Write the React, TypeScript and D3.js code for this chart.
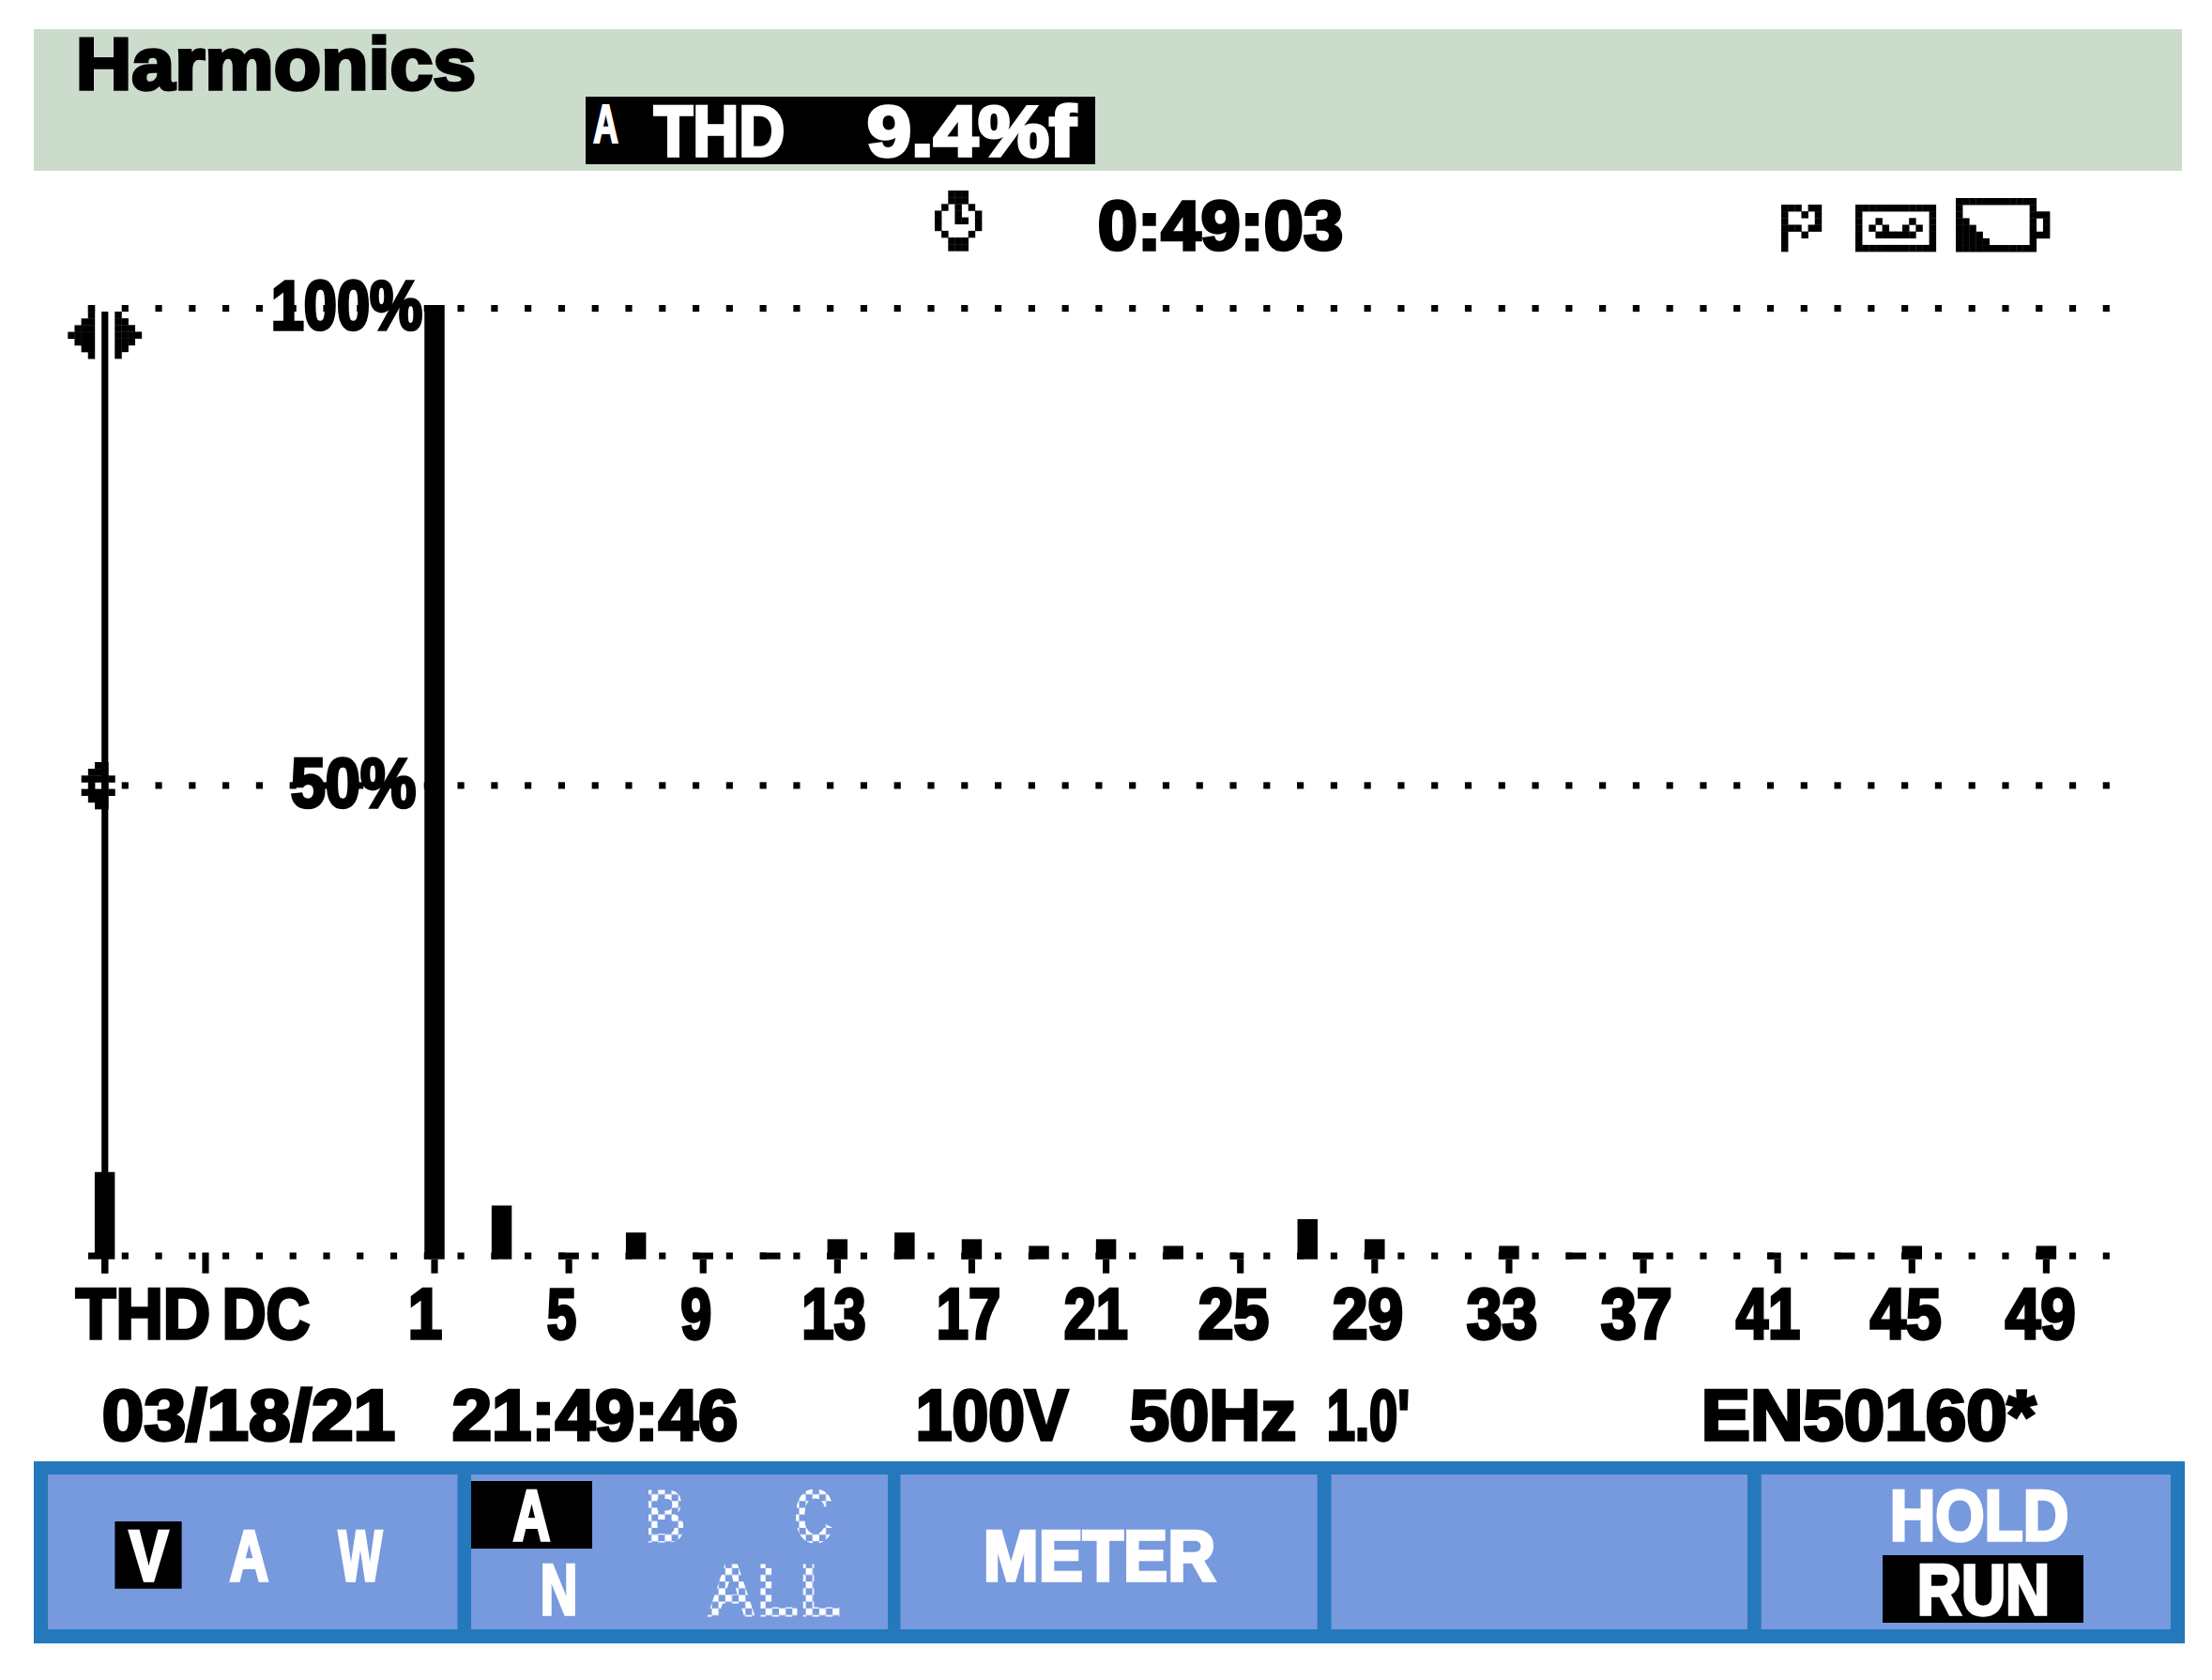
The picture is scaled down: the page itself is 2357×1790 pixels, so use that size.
import React from 'react';
import * as d3 from 'd3';

const harmonicOrders = [1, 3, 5, 7, 9, 11, 13, 15, 17, 19, 21, 23, 25, 27, 29, 31, 33, 35, 37, 39, 41, 43, 45, 47, 49];
const harmonicValues = [100, 5.63, 0.7, 2.8, 0.7, 0.7, 2.1, 2.8, 2.1, 1.4, 2.1, 1.4, 0.7, 4.2, 2.1, 0, 1.4, 0.7, 0.7, 0, 0.7, 0.7, 1.4, 0, 1.4];
const narrowBarOrders = [25, 41];
const thdValue = 9.14;
const tickOrders = [1, 5, 9, 13, 17, 21, 25, 29, 33, 37, 41, 45, 49];
const tickLabels = ['1', '5', '9', '13', '17', '21', '25', '29', '33', '37', '41', '45', '49'];
const gridLevels = [0, 50, 100];

const W = 2357, H = 1790, U = 7.15;
const x = d3.scaleLinear().domain([1, 49]).range([463, 2180.4]);
const y = d3.scaleLinear().domain([0, 100]).range([1341.7, 325]);
const THD_POS = -8.82, DC_POS = -5.82;
const BAR_W = 3 * U;
const dotIndexes = d3.range(-1, 60);
const dotX = (k: number) => 133.3 + 35.78 * k;

// left/right extent of each tick label
const tickLabelBoxes = [[433, 473], [581, 616], [723.5, 760], [852.5, 924.5], [996, 1068], [1132, 1203.6], [1275, 1354], [1418, 1497], [1561, 1640], [1704, 1783.6], [1848, 1920], [1991, 2070.5], [2135, 2213.5]];

type TP = { s: string; l: number; r: number; t: number; b: number; fill?: string; sw?: number };
function T({ s, l, r, t, b, fill = '#000', sw = 3.5 }: TP) {
  const size = (b - t - sw) / 0.716;
  return (
    <text x={l + sw / 2} y={b - sw / 2} fontFamily="'Liberation Sans', Arial, sans-serif" fontWeight={700}
      fontSize={size} fill={fill} stroke={fill} strokeWidth={sw} strokeLinejoin="miter"
      textLength={r - l - sw} lengthAdjust="spacingAndGlyphs">{s}</text>
  );
}

function Bitmap({ x0, y0, rows, fill = '#000' }: { x0: number; y0: number; rows: string[]; fill?: string }) {
  const cells: React.ReactNode[] = [];
  rows.forEach((row, j) => row.split('').forEach((c, i) => {
    if (c === '#') cells.push(<rect key={`${i}-${j}`} x={x0 + i * U} y={y0 + j * U} width={U + 0.3} height={U + 0.3} fill={fill} />);
  }));
  return <g>{cells}</g>;
}

const flagIcon = ['###.##', '#..#.#', '#....#', '###.##', '#..#..', '#.....', '#.....'];
const tapeIcon = ['############', '#..........#', '#..#....#..#', '#.#.#..#.#.#', '#..######..#', '#..........#', '############'];
const batteryIcon = ['############..', '#..........#..', '#..........###', '##.........#.#', '###........#.#', '####.......###', '#####......#..', '############..'];
const clockIcon = ['..###..', '..###..', '.#.#.#.', '#..#..#', '#..##.#', '#.....#', '.#...#.', '..###..', '..###..'];
const cursorDiamond = ['..##.', '.###.', '#####', '.#.#.', '#####', '.###.', '..##.'];
const leftArrow = ['...#', '...#', '..##', '.###', '####', '.###', '..##', '...#'];
const rightArrow = ['#...', '##..', '###.', '####', '###.', '##..', '#...'];

const softKeys = [[51, 487.5], [502, 946], [959.5, 1403.7], [1418.5, 1862], [1876.7, 2313]];

export default function App() {
  const narrow = (h: number) => narrowBarOrders.includes(h);
  return (
    <svg width={W} height={H} viewBox={`0 0 ${W} ${H}`} style={{ position: 'absolute', left: 0, top: 0, display: 'block' }}>
      <defs>
        <pattern id="dither" patternUnits="userSpaceOnUse" width={2 * U} height={2 * U} x={687} y={1585}>
          <rect x={0} y={0} width={U} height={U} fill="#fff" />
          <rect x={U} y={U} width={U} height={U} fill="#fff" />
        </pattern>
      </defs>
      <rect width={W} height={H} fill="#fff" />

      {/* header */}
      <rect x={36} y={31} width={2289} height={151} fill="#ccdccc" />
      <T s="Harmonics" l={79} r={509} t={38} b={97} />
      <rect x={624} y={103} width={543} height={72} fill="#000" />
      <T s="A" l={631} r={660} t={110} b={153} fill="#fff" sw={2} />
      <T s="THD" l={695} r={838} t={110} b={168} fill="#fff" />
      <T s="9.4%f" l={922} r={1148} t={110} b={168} fill="#fff" />

      {/* status row */}
      <Bitmap x0={996} y0={203} rows={clockIcon} />
      <T s="0:49:03" l={1168} r={1433} t={211} b={268} />
      <Bitmap x0={1898} y0={218} rows={flagIcon} />
      <Bitmap x0={1977} y0={218} rows={tapeIcon} />
      <Bitmap x0={2084} y0={211} rows={batteryIcon} />

      {/* dotted grid */}
      {gridLevels.map(v => dotIndexes.map(k => (
        <rect key={`${v}-${k}`} x={dotX(k) - U / 2} y={v === 0 ? y(0) - U : y(v)} width={U} height={U} fill="#000" />
      )))}

      {/* cursor */}
      <rect x={108.2} y={332} width={U} height={1356.7 - 332} fill="#000" />
      <Bitmap x0={72.3} y0={325} rows={leftArrow} />
      <Bitmap x0={122.3} y0={332} rows={rightArrow} />
      <Bitmap x0={86.7} y0={812} rows={cursorDiamond} />

      {/* bars */}
      <rect x={x(THD_POS) - BAR_W / 2} y={y(thdValue)} width={BAR_W} height={y(0) - y(thdValue)} fill="#000" />
      {harmonicOrders.map((h, i) => harmonicValues[i] > 0 && (
        <rect key={h} x={x(h) - BAR_W / 2} y={y(harmonicValues[i])}
          width={narrow(h) ? 2 * U : BAR_W} height={y(0) - y(harmonicValues[i])} fill="#000" />
      ))}

      {/* ticks */}
      <rect x={x(THD_POS) - U / 2} y={y(0)} width={U} height={15} fill="#000" />
      <rect x={x(DC_POS) - U / 2} y={y(0) - U} width={U} height={15 + U} fill="#000" />
      {tickOrders.map(h => <rect key={h} x={x(h) - U / 2} y={y(0)} width={U} height={15} fill="#000" />)}

      {/* axis labels */}
      <T s="100%" l={287} r={452} t={297} b={353} />
      <T s="50%" l={308} r={445} t={805} b={862} />
      <T s="THD" l={79} r={226} t={1370} b={1428} />
      <T s="DC" l={235} r={332} t={1370} b={1428} />
      {tickLabels.map((s, i) => (
        <T key={s} s={s} l={tickLabelBoxes[i][0]} r={tickLabelBoxes[i][1]} t={1370} b={1428} />
      ))}

      {/* info row */}
      <T s="03/18/21" l={107} r={423} t={1478} b={1536} />
      <T s="21:49:46" l={480} r={788} t={1478} b={1536} />
      <T s="100V" l={974} r={1140} t={1478} b={1536} />
      <T s="50Hz" l={1202} r={1383} t={1478} b={1536} />
      <T s="1.0'" l={1412} r={1504} t={1478} b={1536} />
      <T s="EN50160*" l={1811} r={2171} t={1478} b={1536} />

      {/* soft keys */}
      <rect x={36} y={1557} width={2292} height={194} fill="#2478bb" />
      {softKeys.map(([a, b]) => <rect key={a} x={a} y={1571} width={b - a} height={165} fill="#7799dd" />)}

      <rect x={122.4} y={1621} width={71.2} height={71.7} fill="#000" />
      <T s="V" l={136} r={181} t={1628} b={1686} fill="#fff" />
      <T s="A" l={243} r={288} t={1628} b={1686} fill="#fff" />
      <T s="W" l={359} r={409} t={1628} b={1686} fill="#fff" />

      <rect x={502} y={1578} width={129} height={72} fill="#000" />
      <T s="A" l={545} r={588} t={1585} b={1643} fill="#fff" />
      <T s="B" l={687} r={731} t={1585} b={1643} fill="url(#dither)" sw={1} />
      <T s="C" l={845.5} r={889} t={1585} b={1643} fill="url(#dither)" sw={1} />
      <T s="N" l={574} r={617} t={1664} b={1722} fill="#fff" />
      <T s="ALL" l={752} r={897} t={1664} b={1722} fill="url(#dither)" sw={1} />

      <T s="METER" l={1046} r={1297} t={1628} b={1686} fill="#fff" />

      <T s="HOLD" l={2012} r={2206} t={1585} b={1643} fill="#fff" />
      <rect x={2006} y={1657} width={214} height={72} fill="#000" />
      <T s="RUN" l={2041} r={2186} t={1664} b={1722} fill="#fff" />
    </svg>
  );
}
